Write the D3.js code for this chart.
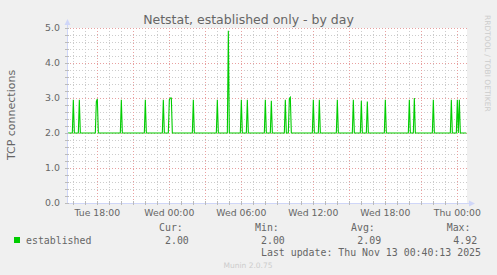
<!DOCTYPE html>
<html><head><meta charset="utf-8">
<script src="https://cdn.jsdelivr.net/npm/d3@7"></script>
<style>html,body{margin:0;padding:0;background:#F0F0F0;}svg{display:block;}</style>
</head><body>
<svg id="chart" width="497" height="275"></svg>
<script>
// ---- data ----
const title = "Netstat, established only - by day";
const yTitle = "TCP connections";
const seriesName = "established";
const baseline = 2.0;
const rangeStart = "2025-11-11T15:28:20";
const rangeEnd = "2025-11-13T00:48:20";
const seriesStart = "2025-11-11T15:30:00";
const seriesEnd = "2025-11-13T00:45:00";
// spikes: start time of the first raised 5-min sample, and the consecutive raised values
const spikeStart = [
  "2025-11-11T16:00","2025-11-11T16:30","2025-11-11T17:55","2025-11-11T20:00",
  "2025-11-11T22:00","2025-11-11T23:30","2025-11-12T00:00","2025-11-12T02:00",
  "2025-11-12T04:00","2025-11-12T04:55","2025-11-12T06:00","2025-11-12T06:30",
  "2025-11-12T08:00","2025-11-12T08:30","2025-11-12T09:40","2025-11-12T10:00",
  "2025-11-12T12:00","2025-11-12T12:30","2025-11-12T14:00","2025-11-12T15:20",
  "2025-11-12T16:00","2025-11-12T16:30","2025-11-12T18:00","2025-11-12T20:00",
  "2025-11-12T20:25","2025-11-12T22:00","2025-11-12T23:30","2025-11-13T00:00",
  "2025-11-13T00:10"
];
const spikeValues = [
  [2.95],[2.95],[2.9,2.97],[2.95],
  [2.95],[2.95],[2.95,3.0,3.0],[2.95],
  [2.95],[4.92],[2.95],[2.95],
  [2.95],[2.92],[2.95],[2.98,3.02],
  [2.95],[2.95],[2.95],[2.95],
  [2.92],[2.9],[2.95],[2.95],
  [3.0],[2.95],[2.95],[2.95],
  [2.95]
];
const yTicks = [0,1,2,3,4,5];
const yTickLabels = ["0.0","1.0","2.0","3.0","4.0","5.0"];
const xTickLabels = ["Tue 18:00","Wed 00:00","Wed 06:00","Wed 12:00","Wed 18:00","Thu 00:00"];
const legendHeads = ["Cur:","Min:","Avg:","Max:"];
const legendVals = ["2.00","2.00","2.09","4.92"];
const lastUpdate = "Last update: Thu Nov 13 00:40:13 2025";
const footer = "Munin 2.0.75";
const sideText = "RRDTOOL / TOBI OETIKER";

// ---- build line vertices ----
const step = 5*60*1000;
const P = s => new Date(s);
const pts = [{t:P(seriesStart), v:baseline}];
spikeStart.forEach((s,i)=>{
  const t0 = P(s).getTime();
  pts.push({t:new Date(t0-step), v:baseline});
  spikeValues[i].forEach((v,j)=>pts.push({t:new Date(t0+j*step), v}));
  pts.push({t:new Date(t0+spikeValues[i].length*step), v:baseline});
});
pts.push({t:P(seriesEnd), v:baseline});

// ---- layout ----
const L=67, R=467, T=28, B=203;
const svg = d3.select("#chart");
const x = d3.scaleTime().domain([P(rangeStart),P(rangeEnd)]).range([L,R]);
const y = d3.scaleLinear().domain([0,5]).range([B,T]);
const fontSans = "'DejaVu Sans', sans-serif";
const fontMono = "'DejaVu Sans Mono', monospace";
const txt = "#666666";
const axisC = "#CFD6F8";

svg.append("rect").attr("width",497).attr("height",275).attr("fill","#F0F0F0");
svg.append("rect").attr("x",L).attr("y",T).attr("width",R-L).attr("height",B-T).attr("fill","#FFFFFF");

// grids
const g = svg.append("g");
const minorY = d3.range(1,25).map(i=>i*0.2).filter(v=>Math.abs(v-Math.round(v))>1e-6);
g.selectAll(".my").data(minorY).enter().append("line")
  .attr("x1",L).attr("x2",R).attr("y1",d=>Math.round(y(d))+0.5).attr("y2",d=>Math.round(y(d))+0.5)
  .attr("stroke","#CCCCCC").attr("stroke-dasharray","1,2");
const hours = x.ticks(d3.timeHour.every(1));
const minorX = hours.filter(d=>d.getHours()%3!==0);
const majorX = hours.filter(d=>d.getHours()%3===0);
g.selectAll(".mx").data(minorX).enter().append("line")
  .attr("y1",T).attr("y2",B).attr("x1",d=>Math.round(x(d))+0.5).attr("x2",d=>Math.round(x(d))+0.5)
  .attr("stroke","#CCCCCC").attr("stroke-dasharray","1,2");
g.selectAll(".My").data(yTicks.slice(1)).enter().append("line")
  .attr("x1",L).attr("x2",R).attr("y1",d=>Math.round(y(d))+0.5).attr("y2",d=>Math.round(y(d))+0.5)
  .attr("stroke","#E8A0A0").attr("stroke-dasharray","1,2");
g.selectAll(".Mx").data(majorX).enter().append("line")
  .attr("y1",T).attr("y2",B).attr("x1",d=>Math.round(x(d))+0.5).attr("x2",d=>Math.round(x(d))+0.5)
  .attr("stroke","#E8A0A0").attr("stroke-dasharray","1,2");

// data line
svg.append("path").datum(pts)
  .attr("d", d3.line().x(d=>x(d.t)).y(d=>y(d.v)))
  .attr("fill","none").attr("stroke","#00CC00").attr("stroke-width",1.1);

// axes
svg.append("line").attr("x1",L+0.5).attr("x2",L+0.5).attr("y1",B).attr("y2",23).attr("stroke",axisC);
svg.append("line").attr("x1",L).attr("x2",471).attr("y1",B+0.5).attr("y2",B+0.5).attr("stroke",axisC);
svg.append("path").attr("d",`M${L-2.5},25 L${L+3.5},25 L${L+0.5},19 Z`).attr("fill",axisC);
svg.append("path").attr("d",`M469,${B-2.5} L469,${B+3.5} L475,${B+0.5} Z`).attr("fill",axisC);
// axis tick marks
svg.selectAll(".ty").data(minorY.concat(yTicks)).enter().append("line")
  .attr("x1",L-2).attr("x2",L+2).attr("y1",d=>Math.round(y(d))+0.5).attr("y2",d=>Math.round(y(d))+0.5)
  .attr("stroke","#BBBBBB");
svg.selectAll(".tx").data(hours).enter().append("line")
  .attr("y1",B-2).attr("y2",B+2).attr("x1",d=>Math.round(x(d))+0.5).attr("x2",d=>Math.round(x(d))+0.5)
  .attr("stroke","#BBBBBB");

// y labels
svg.selectAll(".yl").data(yTicks).enter().append("text")
  .attr("x",60).attr("y",d=>y(d)+3.4).attr("text-anchor","end")
  .attr("font-family",fontSans).attr("font-size","9.4px").attr("fill",txt)
  .text((d,i)=>yTickLabels[i]);
// x labels
const labTicks = hours.filter(d=>d.getHours()%6===0);
svg.selectAll(".xl").data(labTicks).enter().append("text")
  .attr("x",d=>x(d)).attr("y",215.5).attr("text-anchor","middle")
  .attr("font-family",fontSans).attr("font-size","9.3px").attr("fill",txt)
  .text((d,i)=>xTickLabels[i]);

// titles
svg.append("text").attr("x",248.5).attr("y",23.5).attr("text-anchor","middle")
  .attr("font-family",fontSans).attr("font-size","12.5px").attr("fill",txt).text(title);
svg.append("text").attr("transform","translate(14.5,115) rotate(-90)").attr("text-anchor","middle")
  .attr("font-family",fontSans).attr("font-size","11px").attr("fill",txt).text(yTitle);
svg.append("text").attr("transform","translate(484.5,15) rotate(90)").attr("text-anchor","start")
  .attr("font-family",fontSans).attr("font-size","7.5px").attr("fill","#CCCCCC").text(sideText);

// legend
svg.append("rect").attr("x",14).attr("y",237).attr("width",6).attr("height",6).attr("fill","#00CC00");
svg.append("text").attr("x",26).attr("y",243.5).attr("font-family",fontMono).attr("font-size","9.9px")
  .attr("fill",txt).text(seriesName);
const headX = [159,255,351,446.7];
const valX = [165,261,357.3,453.3];
legendHeads.forEach((h,i)=>{
  svg.append("text").attr("x",headX[i]).attr("y",231).attr("font-family",fontMono).attr("font-size","9.9px").attr("fill",txt).text(h);
  svg.append("text").attr("x",valX[i]).attr("y",243.5).attr("font-family",fontMono).attr("font-size","9.9px").attr("fill",txt).text(legendVals[i]);
});
svg.append("text").attr("x",261).attr("y",255.5).attr("font-family",fontMono).attr("font-size","9.9px")
  .attr("fill",txt).text(lastUpdate);
svg.append("text").attr("x",248).attr("y",267.5).attr("text-anchor","middle").attr("font-family",fontSans)
  .attr("font-size","7.5px").attr("fill","#CCCCCC").text(footer);
</script>
</body></html>
